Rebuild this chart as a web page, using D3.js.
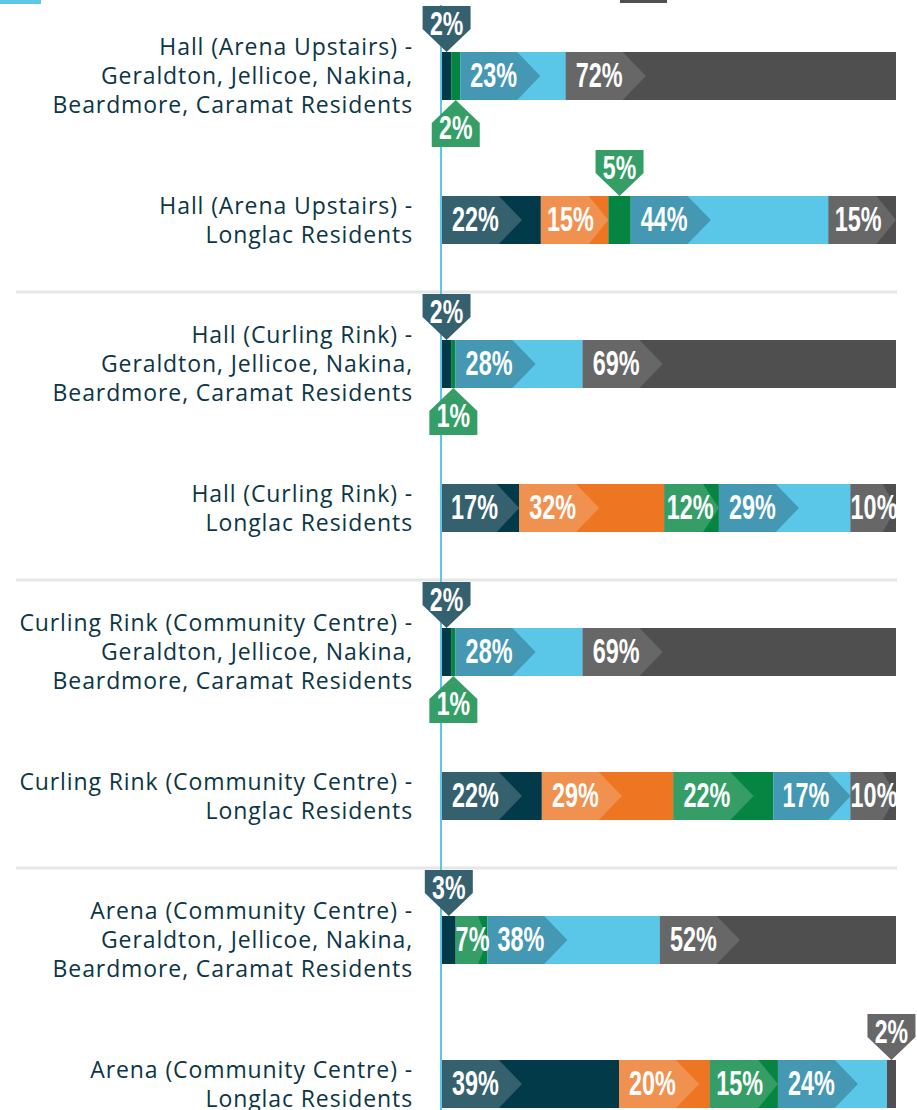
<!DOCTYPE html>
<html>
<head>
<meta charset="utf-8">
<script src="https://cdn.jsdelivr.net/npm/d3@7/dist/d3.min.js"></script>
<style>
  html, body { margin: 0; padding: 0; background: #fff; }
  svg { display: block; }
</style>
</head>
<body>
<svg id="chart" width="917" height="1110"></svg>
<script>
// rows, top to bottom ("|" marks a line break in the label)
const categories = [
  'Hall (Arena Upstairs) -|Geraldton, Jellicoe, Nakina,|Beardmore, Caramat Residents',
  'Hall (Arena Upstairs) -|Longlac Residents',
  'Hall (Curling Rink) -|Geraldton, Jellicoe, Nakina,|Beardmore, Caramat Residents',
  'Hall (Curling Rink) -|Longlac Residents',
  'Curling Rink (Community Centre) -|Geraldton, Jellicoe, Nakina,|Beardmore, Caramat Residents',
  'Curling Rink (Community Centre) -|Longlac Residents',
  'Arena (Community Centre) -|Geraldton, Jellicoe, Nakina,|Beardmore, Caramat Residents',
  'Arena (Community Centre) -|Longlac Residents'
];

// percentages per series (legend text is cropped off, so keyed by colour)
const navyValues   = [2, 22, 2, 17, 2, 22, 3, 39];
const orangeValues = [0, 15, 0, 32, 0, 29, 0, 20];
const greenValues  = [2, 5, 1, 12, 1, 22, 7, 15];
const blueValues   = [23, 44, 28, 29, 28, 17, 38, 24];
const greyValues   = [72, 15, 69, 10, 69, 10, 52, 2];

const seriesKeys = ['navy', 'orange', 'green', 'blue', 'grey'];
const baseColors  = { navy: '#023a4a', orange: '#ee7623', green: '#058541', blue: '#5bc7e8', grey: '#4f4f4f' };
const shadeColors = { navy: '#35616f', orange: '#f19150', green: '#349e66', blue: '#4498b3', grey: '#676767' };

const table = categories.map((c, i) => ({
  category: c,
  navy: navyValues[i],
  orange: orangeValues[i],
  green: greenValues[i],
  blue: blueValues[i],
  grey: greyValues[i]
}));

const svg = d3.select('#chart');

// cropped legend swatches along the top edge
svg.append('rect').attr('x', 0).attr('y', -20).attr('width', 41).attr('height', 24).attr('fill', '#5bc8e8');
svg.append('rect').attr('x', 620).attr('y', -20).attr('width', 47).attr('height', 23).attr('fill', '#4f4f4f');

const xScale = d3.scaleLinear().domain([0, 1]).range([442, 896]);
const yScale = d3.scaleBand()
  .domain(categories)
  .range([4, 1156])
  .paddingInner(2 / 3)
  .paddingOuter(1 / 3);
const bh = yScale.bandwidth();

const stacked = d3.stack().keys(seriesKeys).offset(d3.stackOffsetExpand)(table);

// separators between the location pairs
const seps = [];
for (let i = 1; i < categories.length - 1; i += 2) {
  seps.push((yScale(categories[i]) + bh + yScale(categories[i + 1])) / 2);
}
svg.selectAll('.sep').data(seps).join('line')
  .attr('class', 'sep')
  .attr('x1', 16).attr('x2', 897)
  .attr('y1', d => d).attr('y2', d => d)
  .attr('stroke', '#e6e6e6').attr('stroke-width', 3);

// zero line
svg.append('line')
  .attr('x1', 441).attr('x2', 441)
  .attr('y1', 5).attr('y2', 1110)
  .attr('stroke', '#5bc8e8').attr('stroke-width', 2);

// category labels
const labelG = svg.append('g');
categories.forEach(c => {
  const lines = c.split('|');
  const cy = yScale(c) + bh / 2;
  lines.forEach((line, i) => {
    labelG.append('text')
      .attr('x', 413)
      .attr('y', cy + (i - (lines.length - 1) / 2) * 29 + 8)
      .attr('text-anchor', 'end')
      .attr('font-family', '"Open Sans", sans-serif')
      .attr('font-size', 23)
      .attr('letter-spacing', 0.9)
      .attr('fill', '#0c3545')
      .text(line);
  });
});

// flatten segments
const segs = [];
stacked.forEach(layer => {
  layer.forEach(d => {
    const value = d.data[layer.key];
    if (value <= 0) return;
    segs.push({
      key: layer.key,
      value: value,
      category: d.data.category,
      x0: xScale(d[0]),
      x1: xScale(d[1]),
      y0: yScale(d.data.category)
    });
  });
});

const barG = svg.append('g');
barG.selectAll('rect').data(segs).join('rect')
  .attr('x', d => d.x0)
  .attr('y', d => d.y0)
  .attr('width', d => d.x1 - d.x0)
  .attr('height', bh)
  .attr('fill', d => baseColors[d.key]);

const inside = segs.filter(d => d.value >= 7);
const small = segs.filter(d => d.value < 7);

// chevrons
barG.selectAll('path.chev').data(inside).join('path')
  .attr('class', 'chev')
  .attr('fill', d => shadeColors[d.key])
  .attr('d', d => {
    const cw = Math.min(80, d.x1 - d.x0);
    const rw = cw * 0.71;
    return `M${d.x0},${d.y0}H${d.x0 + rw}L${d.x0 + cw},${d.y0 + bh / 2}L${d.x0 + rw},${d.y0 + bh}H${d.x0}Z`;
  });

const sx = 0.65;
barG.selectAll('text.lab').data(inside).join('text')
  .attr('class', 'lab')
  .attr('font-family', '"Liberation Sans", Arial, sans-serif')
  .attr('font-weight', 'bold')
  .attr('font-size', 36)
  .attr('fill', '#fff')
  .text(d => d.value + '%')
  .attr('transform', function (d) {
    const tw = this.getComputedTextLength() * sx;
    const off = Math.max(0, Math.min(10, (d.x1 - d.x0 - tw) * 0.3));
    return `translate(${d.x0 + off},${d.y0 + 35}) scale(${sx},1)`;
  });

// callouts for small shares: first in a row above, second below
const rowCount = {};
small.forEach(d => {
  rowCount[d.category] = (rowCount[d.category] || 0) + 1;
  d.above = rowCount[d.category] === 1;
  d.cx = (d.x0 + d.x1) / 2;
});

const cw = 48, half = 23;
const callG = svg.append('g');
callG.selectAll('path').data(small).join('path')
  .attr('fill', d => shadeColors[d.key])
  .attr('d', d => {
    if (d.above) {
      const t = d.y0;
      return `M${d.cx - cw / 2},${t - 2 * half}H${d.cx + cw / 2}V${t - half}L${d.cx},${t}L${d.cx - cw / 2},${t - half}Z`;
    }
    const b = d.y0 + bh;
    return `M${d.cx},${b}L${d.cx + cw / 2},${b + half}V${b + 2 * half + 1}H${d.cx - cw / 2}V${b + half}Z`;
  });

callG.selectAll('text').data(small).join('text')
  .attr('font-family', '"Liberation Sans", Arial, sans-serif')
  .attr('font-weight', 'bold')
  .attr('font-size', 33)
  .attr('fill', '#fff')
  .attr('text-anchor', 'middle')
  .attr('transform', d => {
    const y = d.above ? d.y0 - 17 : d.y0 + bh + 39;
    return `translate(${d.cx},${y}) scale(0.7,1)`;
  })
  .text(d => d.value + '%');
</script>
</body>
</html>
